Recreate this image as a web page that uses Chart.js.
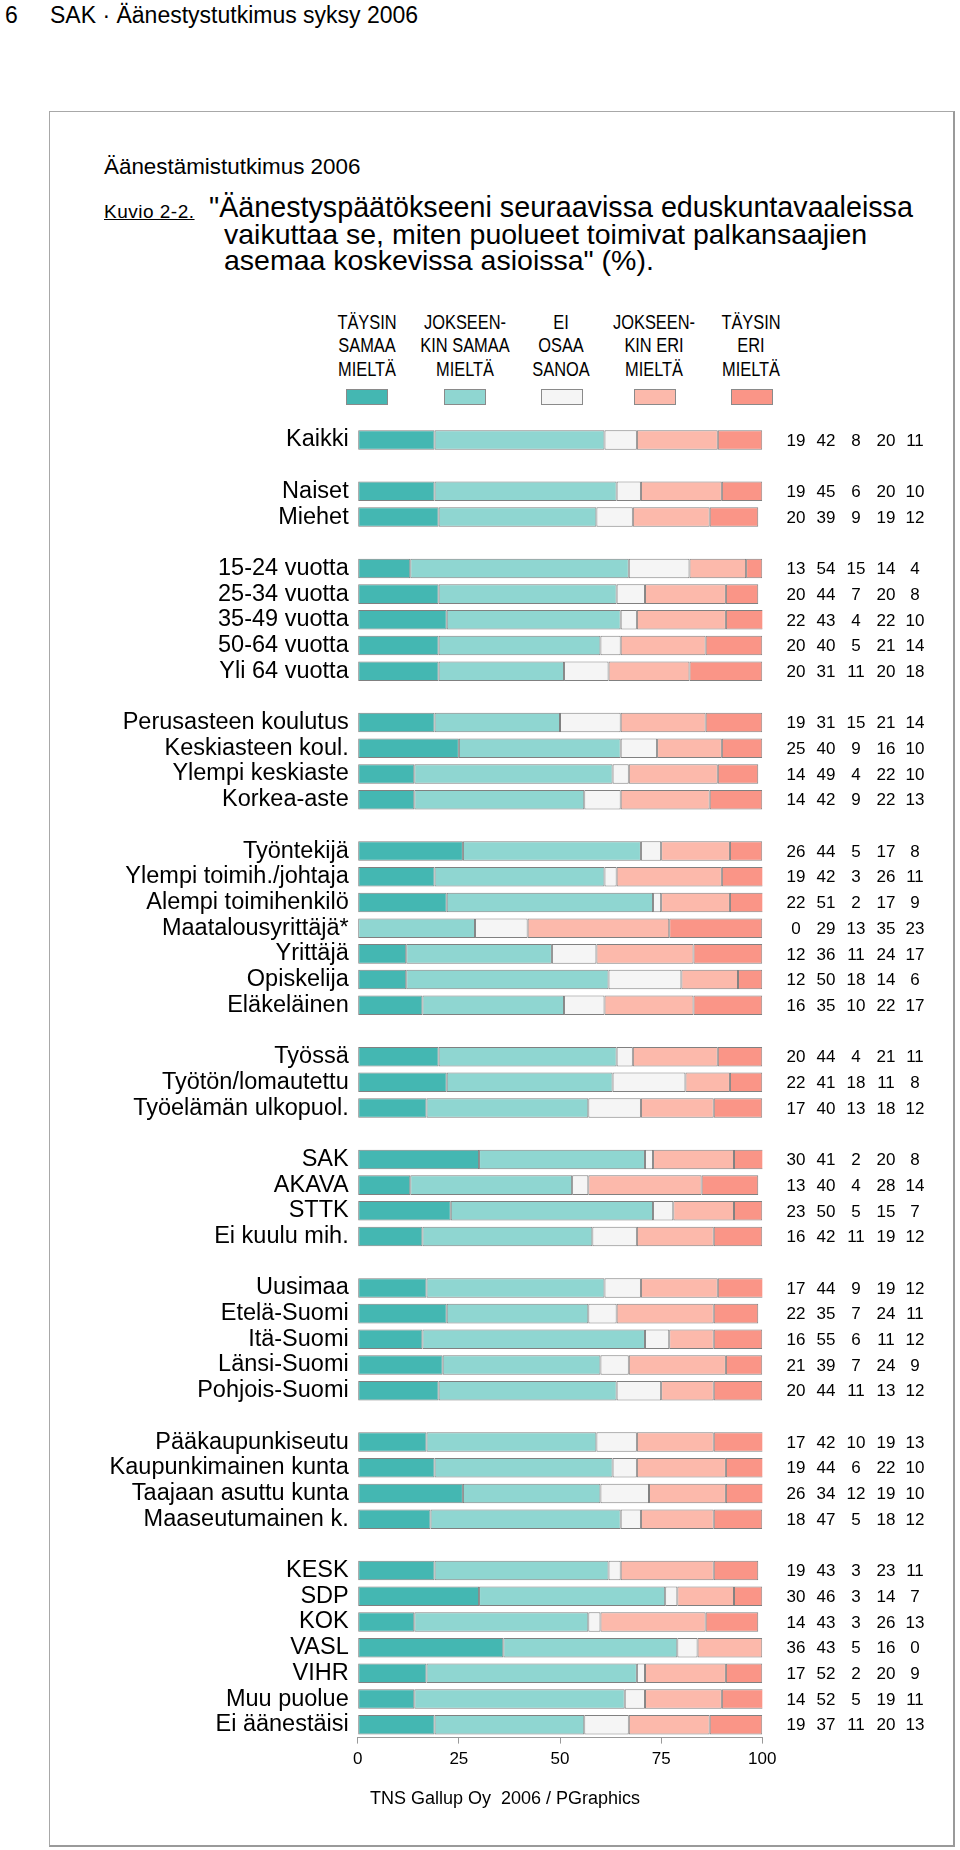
<!DOCTYPE html>
<html><head><meta charset="utf-8">
<script src="https://cdn.jsdelivr.net/npm/chart.js@4.4.1/dist/chart.umd.min.js"></script>
<style>
html,body{margin:0;padding:0;background:#fff}
body{width:960px;height:1850px;position:relative;overflow:hidden;font-family:"Liberation Sans",Arial,Helvetica,sans-serif;color:#000}
.t{position:absolute;white-space:pre;line-height:1}
#frame{position:absolute;left:49px;top:111px;width:903px;height:1733px;border:1px solid #a8a8a8;border-right:2px solid #9a9a9a;border-bottom:2px solid #9a9a9a}
#c{position:absolute;left:0;top:0}
.lg{position:absolute;text-align:center;font-size:20px;line-height:23.5px;width:140px;transform:scaleX(0.82);transform-origin:center top;white-space:pre}
.sw{position:absolute;width:40px;height:14px;border:1px solid #8a8a8a}
</style></head>
<body>
<div class="t" style="left:5px;top:3.5px;font-size:23px">6</div>
<div class="t" style="left:50px;top:3.5px;font-size:23px">SAK · Äänestystutkimus syksy 2006</div>
<div id="frame"></div>
<div class="t" style="left:104px;top:156px;font-size:22.4px">Äänestämistutkimus 2006</div>
<div class="t" style="left:104px;top:202px;font-size:19px;letter-spacing:0.5px;text-decoration:underline">Kuvio 2-2.</div>
<div class="t" style="left:209px;top:193px;font-size:28.7px">"Äänestyspäätökseeni seuraavissa eduskuntavaaleissa</div>
<div class="t" style="left:224px;top:219.5px;font-size:28.5px">vaikuttaa se, miten puolueet toimivat palkansaajien</div>
<div class="t" style="left:224px;top:246px;font-size:28.5px">asemaa koskevissa asioissa" (%).</div>
<div id="legend"></div>
<canvas id="c" width="960" height="1850"></canvas>
<div class="t" style="left:370px;top:1789px;font-size:18px">TNS Gallup Oy  2006 / PGraphics</div>
<script>
const categories = ['Kaikki','',
 'Naiset','Miehet','',
 '15-24 vuotta','25-34 vuotta','35-49 vuotta','50-64 vuotta','Yli 64 vuotta','',
 'Perusasteen koulutus','Keskiasteen koul.','Ylempi keskiaste','Korkea-aste','',
 'Työntekijä','Ylempi toimih./johtaja','Alempi toimihenkilö','Maatalousyrittäjä*','Yrittäjä','Opiskelija','Eläkeläinen','',
 'Työssä','Työtön/lomautettu','Työelämän ulkopuol.','',
 'SAK','AKAVA','STTK','Ei kuulu mih.','',
 'Uusimaa','Etelä-Suomi','Itä-Suomi','Länsi-Suomi','Pohjois-Suomi','',
 'Pääkaupunkiseutu','Kaupunkimainen kunta','Taajaan asuttu kunta','Maaseutumainen k.','',
 'KESK','SDP','KOK','VASL','VIHR','Muu puolue','Ei äänestäisi'];

const taysinSamaa   = [19,null, 19,20,null, 13,20,22,20,20,null, 19,25,14,14,null, 26,19,22,0,12,12,16,null, 20,22,17,null, 30,13,23,16,null, 17,22,16,21,20,null, 17,19,26,18,null, 19,30,14,36,17,14,19];
const jokseenSamaa  = [42,null, 45,39,null, 54,44,43,40,31,null, 31,40,49,42,null, 44,42,51,29,36,50,35,null, 44,41,40,null, 41,40,50,42,null, 44,35,55,39,44,null, 42,44,34,47,null, 43,46,43,43,52,52,37];
const eiOsaa        = [8,null, 6,9,null, 15,7,4,5,11,null, 15,9,4,9,null, 5,3,2,13,11,18,10,null, 4,18,13,null, 2,4,5,11,null, 9,7,6,7,11,null, 10,6,12,5,null, 3,3,3,5,2,5,11];
const jokseenEri    = [20,null, 20,19,null, 14,20,22,21,20,null, 21,16,22,22,null, 17,26,17,35,24,14,22,null, 21,11,18,null, 20,28,15,19,null, 19,24,11,24,13,null, 19,22,19,18,null, 23,14,26,16,20,19,20];
const taysinEri     = [11,null, 10,12,null, 4,8,10,14,18,null, 14,10,10,13,null, 8,11,9,23,17,6,17,null, 11,8,12,null, 8,14,7,12,null, 12,11,12,9,12,null, 13,10,10,12,null, 11,7,13,0,9,11,13];

const seriesNames  = ['TÄYSIN\nSAMAA\nMIELTÄ','JOKSEEN-\nKIN SAMAA\nMIELTÄ','EI\nOSAA\nSANOA','JOKSEEN-\nKIN ERI\nMIELTÄ','TÄYSIN\nERI\nMIELTÄ'];
const seriesColors = ['#44b7b2','#8fd6d1','#f5f5f5','#fcb9ab','#fa9587'];
const seriesData   = [taysinSamaa, jokseenSamaa, eiOsaa, jokseenEri, taysinEri];
const xTicks = [0,25,50,75,100];

// legend layout (column centres)
const legendX = [366.5, 464.5, 561, 654, 751];
const valueColX = [796, 826, 856, 886, 915];

const lg = document.getElementById('legend');
seriesNames.forEach((n,i)=>{
  const d=document.createElement('div'); d.className='lg'; d.textContent=n;
  d.style.left=(legendX[i]-70)+'px'; d.style.top='310.5px'; lg.appendChild(d);
  const s=document.createElement('div'); s.className='sw'; s.style.background=seriesColors[i];
  s.style.left=(legendX[i]-20.5)+'px'; s.style.top='389px'; lg.appendChild(s);
});

Chart.defaults.font.family = '"Liberation Sans", Arial, Helvetica, sans-serif';
Chart.defaults.color = '#000';

const valueLabels = {
  id:'valueLabels',
  afterDatasetsDraw(chart){
    const ctx=chart.ctx, y=chart.scales.y;
    ctx.save();
    ctx.font='17px "Liberation Sans", Arial, sans-serif';
    ctx.fillStyle='#000'; ctx.textAlign='center'; ctx.textBaseline='middle';
    categories.forEach((c,i)=>{
      if(seriesData[0][i]===null) return;
      const py=y.getPixelForValue(i);
      seriesData.forEach((arr,k)=>ctx.fillText(String(arr[i]), valueColX[k], py+1));
    });
    ctx.restore();
  }
};

new Chart(document.getElementById('c'), {
  type:'bar',
  data:{
    labels: categories,
    datasets: seriesData.map((d,i)=>({
      label: seriesNames[i].replace(/\n/g,' '),
      data: d,
      backgroundColor: seriesColors[i],
      borderColor: 'rgba(85,85,85,0.75)',
      borderWidth: 1,
      borderSkipped: false,
      barPercentage: 0.76,
      categoryPercentage: 1
    }))
  },
  options:{
    indexAxis:'y',
    responsive:false,
    devicePixelRatio:1,
    animation:false,
    layout:{padding:{left:0, top:427.1, right:197.7, bottom:72.4}},
    plugins:{legend:{display:false}, tooltip:{enabled:false}},
    scales:{
      x:{
        stacked:true, min:0, max:100,
        afterBuildTicks(s){ s.ticks = xTicks.map(v=>({value:v})); },
        afterFit(s){ s.height = 40; },
        grid:{drawOnChartArea:false, drawTicks:true, tickLength:6, color:'#999'},
        border:{display:true, color:'#999'},
        ticks:{font:{size:17}, color:'#000', padding:6, maxRotation:0}
      },
      y:{
        stacked:true,
        afterFit(s){ s.width = 357.7; },
        grid:{display:false, drawTicks:false},
        border:{display:false},
        ticks:{font:{size:23.5}, color:'#000', padding:9, autoSkip:false}
      }
    }
  },
  plugins:[valueLabels]
});
</script>
</body></html>
